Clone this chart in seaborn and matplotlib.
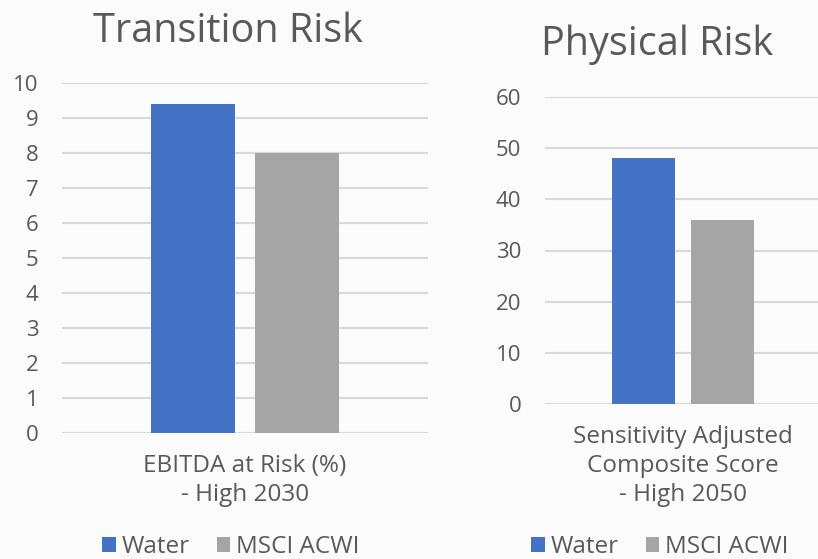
import seaborn as sns
import matplotlib.pyplot as plt
import pandas as pd

# values
series = ["Water", "MSCI ACWI"]
colors = ["#4472C4", "#A5A5A5"]
transition_metric = "EBITDA at Risk (%)\n- High 2030"
transition_values = [9.4, 8.0]
transition_ticks = [0, 1, 2, 3, 4, 5, 6, 7, 8, 9, 10]
physical_metric = "Sensitivity Adjusted\nComposite Score\n- High 2050"
physical_values = [48, 36]
physical_ticks = [0, 10, 20, 30, 40, 50, 60]

sns.set_theme(style="white")
plt.rcParams['font.family'] = ['Open Sans', 'DejaVu Sans']
text_col = "#595959"
bg = "#fbfbfb"

fig = plt.figure(figsize=(8.18, 5.59), dpi=100, facecolor=bg)
ax1 = fig.add_axes([62 / 818, 126 / 559, 366 / 818, 350 / 559])
ax2 = fig.add_axes([545 / 818, 155 / 559, 276 / 818, 307 / 559])


def draw_panel(ax, metric, values, ticks, legend_x):
    df = pd.DataFrame({"metric": [metric] * len(series), "series": series, "value": values})
    sns.barplot(data=df, x="metric", y="value", hue="series", palette=colors,
                width=0.572, gap=0.2, saturation=1, linewidth=0, ax=ax, legend=True)
    ax.set_facecolor(bg)
    ax.set_ylim(ticks[0], ticks[-1])
    ax.set_yticks(ticks)
    ax.set_xlim(-0.5, 0.5)
    ax.set_xlabel("")
    ax.set_ylabel("")
    for s in ax.spines.values():
        s.set_visible(False)
    ax.yaxis.grid(True, color="#d9d9d9", linewidth=1.5)
    ax.set_axisbelow(True)
    ax.tick_params(axis="y", length=0, pad=17, labelsize=16, labelcolor=text_col)
    ax.tick_params(axis="x", length=0, pad=15, labelsize=17.5, labelcolor=text_col)
    for lab in ax.get_xticklabels():
        lab.set_linespacing(1.27)
    sns.move_legend(ax, "center", bbox_to_anchor=(legend_x, 12 / 559),
                    bbox_transform=fig.transFigure, ncol=2, frameon=False, title=None,
                    fontsize=17.5, handlelength=0.56, handleheight=0.56,
                    handletextpad=0.25, columnspacing=1.1, labelcolor=text_col)


draw_panel(ax1, transition_metric, transition_values, transition_ticks, 231 / 818)
draw_panel(ax2, physical_metric, physical_values, physical_ticks, 660 / 818)

fig.text(228 / 818, 1 - 42 / 559, "Transition Risk", ha="center", va="baseline",
         fontsize=28.5, color=text_col)
fig.text(657 / 818, 1 - 55 / 559, "Physical Risk", ha="center", va="baseline",
         fontsize=28.5, color=text_col)

fig.savefig("out.png", dpi=100, facecolor=bg)
